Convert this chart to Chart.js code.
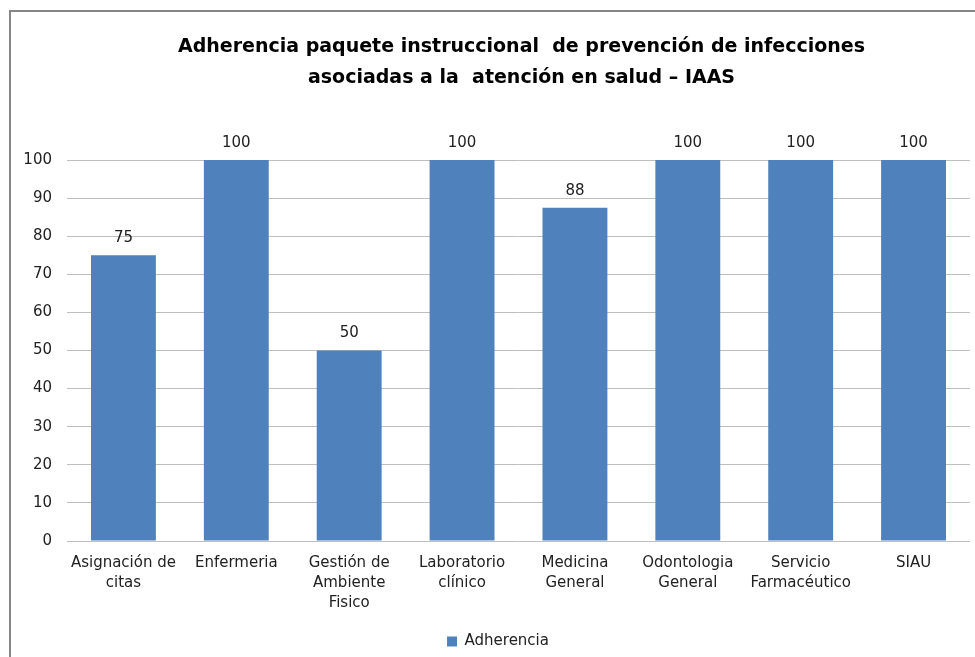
<!DOCTYPE html>
<html>
<head>
<meta charset="utf-8">
<script src="https://cdn.jsdelivr.net/npm/chart.js@4"></script>
<style>
  body { margin: 0; background: #fff; }
  #frame { position: absolute; left: 9px; top: 10px; width: 980px; height: 660px;
           border-left: 2px solid #868686; border-top: 2px solid #868686; }
  #c { position: absolute; left: 0; top: 0; }
</style>
</head>
<body>
<div id="frame"></div>
<canvas id="c" width="975" height="657"></canvas>
<script>
const categories = [
  ['Asignación de', 'citas'],
  'Enfermeria',
  ['Gestión de', 'Ambiente', 'Fisico'],
  ['Laboratorio', 'clínico'],
  ['Medicina', 'General'],
  ['Odontologia', 'General'],
  ['Servicio', 'Farmacéutico'],
  'SIAU'
];
const adherencia = [75, 100, 50, 100, 87.5, 100, 100, 100];
const titleLines = [
  'Adherencia paquete instruccional  de prevención de infecciones',
  'asociadas a la  atención en salud – IAAS'
];

const FONT = '"DejaVu Sans", sans-serif';

// title centred over the plot area, like the original
const titlePlugin = {
  id: 'titleLines',
  afterDraw(chart) {
    const ctx = chart.ctx;
    const a = chart.chartArea;
    const cx = (a.left + a.right) / 2 + 3;
    ctx.save();
    ctx.font = 'bold 19px ' + FONT;
    ctx.fillStyle = '#000';
    ctx.textAlign = 'center';
    ctx.textBaseline = 'middle';
    titleLines.forEach((t, i) => ctx.fillText(t, cx, 47 + i * 31));
    ctx.restore();
  }
};

// value labels on top of each bar
const valueLabels = {
  id: 'valueLabels',
  afterDatasetsDraw(chart) {
    const ctx = chart.ctx;
    const meta = chart.getDatasetMeta(0);
    ctx.save();
    ctx.font = '15px ' + FONT;
    ctx.fillStyle = '#222';
    ctx.textAlign = 'center';
    ctx.textBaseline = 'middle';
    meta.data.forEach((bar, i) => {
      ctx.fillText(Math.round(adherencia[i]), bar.x, bar.y - 17);
    });
    ctx.restore();
  }
};

// the legend sits a little right of the canvas centre in the original
const legendShift = {
  id: 'legendShift',
  afterLayout(chart) {
    chart.legend.left += 13;
    chart.legend.right += 13;
    chart.legend.top += 2;
    chart.legend.bottom += 2;
  }
};

const myChart = new Chart(document.getElementById('c'), {
  type: 'bar',
  data: {
    labels: categories,
    datasets: [{
      label: 'Adherencia',
      data: adherencia,
      backgroundColor: '#4F81BD',
      categoryPercentage: 0.575,
      barPercentage: 1
    }]
  },
  options: {
    responsive: false,
    animation: false,
    layout: { padding: { top: 160, right: 5, left: 0, bottom: 0 } },
    plugins: {
      title: { display: false },
      tooltip: { enabled: false },
      legend: {
        position: 'bottom',
        labels: {
          boxWidth: 10,
          boxHeight: 10,
          padding: 6,
          color: '#222',
          font: { size: 15, family: FONT }
        }
      }
    },
    scales: {
      x: {
        grid: { display: false, drawTicks: false },
        border: { display: false },
        ticks: {
          padding: 12,
          maxRotation: 0,
          autoSkip: false,
          color: '#222',
          font: { size: 15, family: FONT, lineHeight: 1.33 }
        },
        afterFit(scale) { scale.height = 85; }
      },
      y: {
        min: 0,
        max: 100,
        grid: { color: '#BFBFBF', lineWidth: 1, drawTicks: false },
        border: { display: false },
        ticks: {
          stepSize: 10,
          padding: 15,
          color: '#222',
          font: { size: 15, family: FONT }
        },
        afterFit(scale) { scale.width = 67; }
      }
    }
  },
  plugins: [titlePlugin, valueLabels, legendShift]
});
</script>
</body>
</html>
